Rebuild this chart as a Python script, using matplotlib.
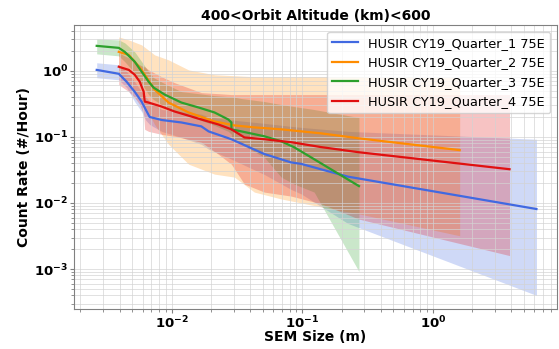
import numpy as np
import matplotlib
matplotlib.use("Agg")
import matplotlib.pyplot as plt

# HUSIR CY19 Quarter_1 75E
q1_size = [0.00267, 0.00394, 0.00453, 0.00522, 0.0059, 0.00633, 0.00679, 0.00839,
           0.0119, 0.0169, 0.0192, 0.0287, 0.0513, 0.0824, 0.0983, 0.224, 6.22]
q1_rate = [1.03, 0.90, 0.68, 0.48, 0.34, 0.26, 0.20, 0.18,
           0.165, 0.144, 0.121, 0.092, 0.055, 0.041, 0.039, 0.025, 0.0081]
q1_hi = [1.32, 1.23, 0.97, 0.68, 0.48, 0.41, 0.34, 0.26,
         0.24, 0.22, 0.20, 0.18, 0.16, 0.144, 0.139, 0.121, 0.092]
q1_lo = [0.785, 0.73, 0.555, 0.34, 0.24, 0.18, 0.154, 0.121,
         0.098, 0.077, 0.065, 0.046, 0.027, 0.016, 0.0137, 0.0049, 0.0004]

# HUSIR CY19 Quarter_2 75E
q2_size = [0.00394, 0.0047, 0.0059, 0.00741, 0.00948, 0.0135, 0.0213, 0.0303,
           0.043, 0.0691, 0.1396, 0.272, 1.607]
q2_rate = [1.93, 1.74, 1.03, 0.518, 0.330, 0.234, 0.171, 0.149,
           0.139, 0.130, 0.113, 0.095, 0.063]
q2_hi = [3.25, 2.93, 2.46, 1.74, 1.46, 1.03, 0.871, 0.841,
         0.812, 0.812, 0.812, 0.812, 0.785]
q2_lo = [0.871, 0.616, 0.366, 0.154, 0.0771, 0.0386, 0.0273, 0.0246,
         0.0146, 0.0115, 0.0087, 0.00684, 0.00319]

# HUSIR CY19 Quarter_3 75E
q3_size = [0.00267, 0.00394, 0.00438, 0.00522, 0.0059, 0.00667, 0.00729, 0.00885,
           0.0119, 0.0161, 0.0213, 0.0272, 0.0287, 0.0287, 0.0342, 0.0513,
           0.0691, 0.0869, 0.1235, 0.272]
q3_rate = [2.38, 2.22, 1.93, 1.37, 0.966, 0.683, 0.555, 0.436,
           0.330, 0.278, 0.234, 0.183, 0.165, 0.130, 0.121, 0.102,
           0.0856, 0.0695, 0.0459, 0.018]
q3_hi = [3.03, 2.93, 2.64, 1.93, 1.37, 0.966, 0.785, 0.638,
         0.483, 0.45, 0.42, 0.406, 0.406, 0.406, 0.38, 0.342,
         0.308, 0.287, 0.259, 0.196]
q3_lo = [1.80, 1.68, 1.37, 0.93, 0.64, 0.436, 0.366, 0.287,
         0.226, 0.183, 0.149, 0.121, 0.109, 0.098, 0.077, 0.049,
         0.0246, 0.0193, 0.0146, 0.00092]

# HUSIR CY19 Quarter_4 75E
q4_size = [0.00394, 0.0047, 0.00522, 0.0057, 0.00611, 0.00622, 0.00667, 0.00839,
           0.01054, 0.0169, 0.0228, 0.0287, 0.0361, 0.0513, 0.0824, 0.1396,
           0.272, 3.87]
q4_rate = [1.15, 1.03, 0.871, 0.683, 0.483, 0.342, 0.330, 0.287,
           0.242, 0.183, 0.154, 0.130, 0.098, 0.092, 0.083, 0.070,
           0.0585, 0.0324]
q4_hi = [1.87, 1.57, 1.37, 1.23, 1.15, 1.15, 1.03, 0.81,
         0.66, 0.467, 0.45, 0.436, 0.436, 0.436, 0.436, 0.436,
         0.436, 0.436]
q4_lo = [0.616, 0.483, 0.393, 0.308, 0.218, 0.130, 0.121, 0.109,
         0.102, 0.083, 0.0546, 0.0386, 0.0193, 0.0146, 0.0127, 0.0097,
         0.0057, 0.0016]

series = [
    ("HUSIR CY19_Quarter_1 75E", q1_size, q1_rate, q1_lo, q1_hi, "royalblue"),
    ("HUSIR CY19_Quarter_2 75E", q2_size, q2_rate, q2_lo, q2_hi, "darkorange"),
    ("HUSIR CY19_Quarter_3 75E", q3_size, q3_rate, q3_lo, q3_hi, "#2ca02c"),
    ("HUSIR CY19_Quarter_4 75E", q4_size, q4_rate, q4_lo, q4_hi, "#e01010"),
]

fig, ax = plt.subplots(figsize=(5.59, 3.49), dpi=100)

for label, x, y, lo, hi, color in series:
    ax.fill_between(x, lo, hi, color=color, alpha=0.25, linewidth=0)
    ax.plot(x, y, color=color, linewidth=1.6, label=label)

ax.set_xscale("log")
ax.set_yscale("log")
ax.set_xlim(1.8e-3, 8.9)
ax.set_ylim(2.5e-4, 4.9)

ax.grid(True, which="both", color="lightgray", linewidth=0.6, alpha=0.8)
for s in ax.spines.values():
    s.set_color("gray")
ax.tick_params(which="major", length=3, pad=1.5, colors="gray", labelcolor="black")
ax.tick_params(which="minor", length=2, colors="gray")

ax.set_title("400<Orbit Altitude (km)<600", fontsize=10, fontweight="bold", pad=4)
ax.set_xlabel("SEM Size (m)", fontsize=10, fontweight="bold", labelpad=-1)
ax.set_ylabel("Count Rate (#/Hour)", fontsize=10, fontweight="bold", labelpad=2)
for lbl in ax.get_xticklabels() + ax.get_yticklabels():
    lbl.set_fontweight("bold")
    lbl.set_fontsize(9.5)

ax.legend(loc="upper right", fontsize=9.3, framealpha=0.8)

fig.subplots_adjust(left=0.133, right=0.996, top=0.928, bottom=0.115)
fig.savefig("out.png", dpi=100)
